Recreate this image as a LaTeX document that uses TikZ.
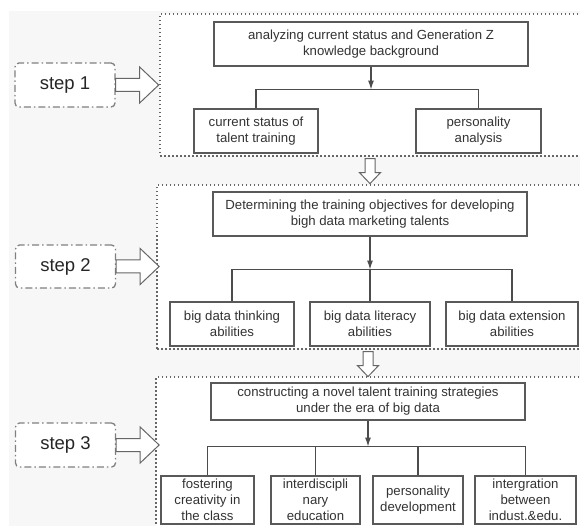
\documentclass[tikz,border=0pt]{standalone}
\usepackage{fontspec}
\setmainfont{Liberation Sans}
\usepackage{tikz}
\usepackage{xcolor}
\usetikzlibrary{arrows.meta,calc}

\begin{document}
\begin{tikzpicture}[x=1pt,y=-1pt]%
  \tikzstyle{boxn}=[rectangle,draw=black!65,line width=1.1pt,fill=white,inner sep=0,align=center,text=black!80,font=\fontsize{13.2}{16}\selectfont]
  \tikzstyle{stepn}=[rectangle,rounded corners=4pt,draw=black!50,line width=1.3pt,dash pattern=on 7pt off 3pt on 1.5pt off 3pt,fill=white,minimum width=100pt,minimum height=44pt,text=black!85,font=\fontsize{18.5}{20}\selectfont]
  \tikzstyle{framen}=[rectangle,draw=black!60,line width=1.2pt,dash pattern=on 1.5pt off 2.5pt,fill=white,inner sep=0]
  \tikzstyle{hollow}=[draw=black!60,line width=1pt,fill=white]
  \tikzstyle{link}=[draw=black!70,line width=1.1pt]
  \useasboundingbox (0,0) rectangle (580,526);
  \clip (0,0) rectangle (580,526);
  \fill[black!3] (9,11) rectangle (580,526);
  \node[framen,minimum width=440,minimum height=142](f1) at (380,85) {};
  \node[framen,minimum width=443,minimum height=164](f2) at (378.5,267) {};
  \node[framen,minimum width=444,minimum height=163](f3) at (378,458.5) {};
  \node[stepn](s1) at (65,85) {step 1};
  \node[stepn,minimum height=43pt](s2) at (65.5,266.5) {step 2};
  \node[stepn](s3) at (65.5,445) {step 3};
  \node[boxn,minimum width=314,minimum height=44](b1) at (371,44) {analyzing current status and Generation Z\\knowledge background};
  \node[boxn,minimum width=124,minimum height=44](c11) at (256,131) {current status of\\talent training};
  \node[boxn,minimum width=125,minimum height=44](c12) at (478.5,131) {personality\\analysis};
  \node[boxn,minimum width=314,minimum height=44](b2) at (370,214) {Determining the training objectives for developing\\bigh data marketing talents};
  \node[boxn,minimum width=124,minimum height=44](c21) at (232,324) {big data thinking\\abilities};
  \node[boxn,minimum width=120,minimum height=44](c22) at (370,324) {big data literacy\\abilities};
  \node[boxn,minimum width=132,minimum height=44](c23) at (512,324) {big data extension\\abilities};
  \node[boxn,minimum width=314,minimum height=37](b3) at (368,401.5) {constructing a novel talent training strategies\\under the era of big data};
  \node[boxn,minimum width=93,minimum height=48](c31) at (207.5,500) {fostering\\creativity in\\the class};
  \node[boxn,minimum width=89,minimum height=48](c32) at (315.5,500) {interdiscipli\\nary\\education};
  \node[boxn,minimum width=90,minimum height=48](c33) at (418,500) {personality\\development};
  \node[boxn,minimum width=101,minimum height=48](c34) at (525.5,500) {intergration\\between\\indust.\&edu.};
  \coordinate (j1) at ($(b1.south)+(0,23)$);
  \coordinate (j2) at ($(b2.south)+(0,33)$);
  \coordinate (j3) at ($(b3.south)+(0,26)$);
  \draw[link] (c11) |- (j1) -| (c12);
  \draw[link] (c21) |- (j2) -| (c23);
  \draw[link] (c22) -- (j2);
  \draw[link] (c31) |- (j3) -| (c34);
  \draw[link] (c32) -- (c32 |- j3);
  \draw[link] (c33) -- (c33 |- j3);
  \foreach \i in {1,2,3}
    \draw[link,-{Latex[length=9pt,width=6pt]}] (b\i) -- (j\i);
  \foreach \i in {1,2,3}
    \draw[hollow] ($(s\i.east)+(0,-6.5)$) -- ++(24,0) -- ++(0,-11.5) -- ++(19,18) -- ++(-19,18) -- ++(0,-11.5) -- ++(-24,0) -- cycle;
  \foreach \i/\j in {1/2,2/3}
    \draw[hollow] ($(b\j |- f\i.south)+(-5,2)$) -- ++(0,14) -- ++(-5.5,0) -- ++(10.5,11) -- ++(10.5,-11) -- ++(-5.5,0) -- ++(0,-14) -- cycle;
\end{tikzpicture}
\end{document}
